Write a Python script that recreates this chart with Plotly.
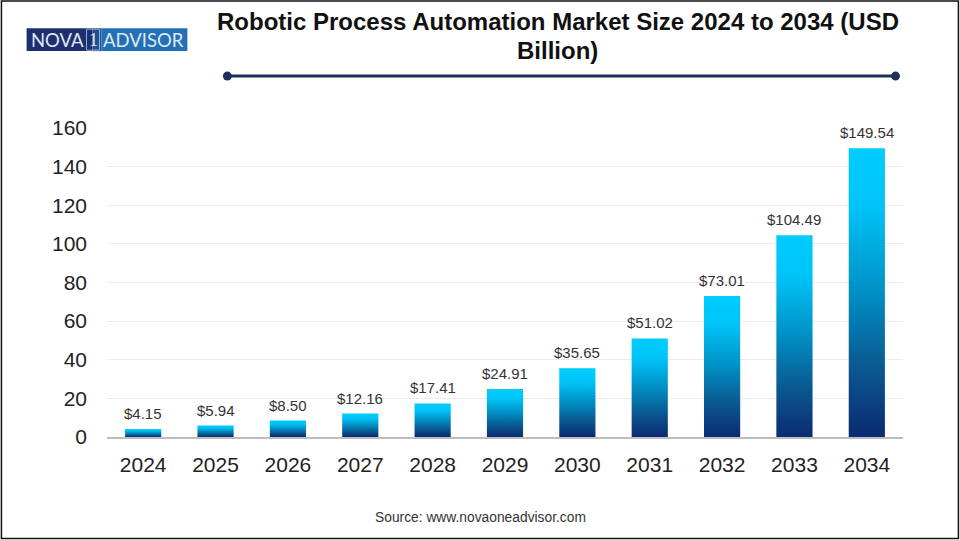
import plotly.graph_objects as go

years = ['2024', '2025', '2026', '2027', '2028', '2029', '2030', '2031', '2032', '2033', '2034']
market_size = [4.15, 5.94, 8.50, 12.16, 17.41, 24.91, 35.65, 51.02, 73.01, 104.49, 149.54]
bar_labels = ['$4.15', '$5.94', '$8.50', '$12.16', '$17.41', '$24.91', '$35.65', '$51.02', '$73.01', '$104.49', '$149.54']
y_ticks = [0, 20, 40, 60, 80, 100, 120, 140, 160]

W, H = 960, 540
LEFT, RIGHT, TOP, BOTTOM = 106.5, 903.5, 128, 437.5
NAVY = '#1f2d5f'
FONT = 'Liberation Sans, Arial, sans-serif'


# paper coordinates count from the plot area, these take picture pixels
def px_x(v):
    return (v - LEFT) / (RIGHT - LEFT)


def px_y(v):
    return (BOTTOM - v) / (BOTTOM - TOP)


def page_text(text, x, y, size, color, family=FONT):
    return dict(text=text, xref='paper', yref='paper', x=px_x(x), y=px_y(y), xanchor='center', yanchor='middle',
                showarrow=False, font=dict(size=size, color=color, family=family))


fig = go.Figure()
fig.add_trace(go.Bar(
    x=years, y=market_size,
    cliponaxis=False,
    marker=dict(color='#00a0d8', line=dict(width=0)),
    width=0.5, hoverinfo='x+y',
))

shapes = [
    # outer frame of the picture
    dict(type='rect', xref='paper', yref='paper', x0=px_x(0.8), x1=px_x(959), y0=px_y(0.8), y1=px_y(539.2),
         line=dict(color='#111111', width=1.5), fillcolor='rgba(0,0,0,0)', layer='below'),
    # logo
    dict(type='rect', xref='paper', yref='paper', x0=px_x(26), x1=px_x(92), y0=px_y(28), y1=px_y(51),
         line=dict(width=0), fillcolor='#1e2f70', layer='below'),
    dict(type='rect', xref='paper', yref='paper', x0=px_x(92), x1=px_x(101), y0=px_y(28), y1=px_y(51),
         line=dict(width=0), fillcolor='#214f92', layer='below'),
    dict(type='rect', xref='paper', yref='paper', x0=px_x(101), x1=px_x(187), y0=px_y(28), y1=px_y(51),
         line=dict(width=0), fillcolor='#2470b4', layer='below'),
    dict(type='rect', xref='paper', yref='paper', x0=px_x(86), x1=px_x(99), y0=px_y(29), y1=px_y(50),
         line=dict(color='#8fb4de', width=1), fillcolor='rgba(0,0,0,0)'),
    # rule under title
    dict(type='line', xref='paper', yref='paper', x0=px_x(227), x1=px_x(896), y0=px_y(76), y1=px_y(76),
         line=dict(color=NAVY, width=3)),
    dict(type='circle', xref='paper', yref='paper', x0=px_x(222.5), x1=px_x(231.5), y0=px_y(71.5), y1=px_y(80.5),
         line=dict(width=0), fillcolor=NAVY),
    dict(type='circle', xref='paper', yref='paper', x0=px_x(891.5), x1=px_x(900.5), y0=px_y(71.5), y1=px_y(80.5),
         line=dict(width=0), fillcolor=NAVY),
]

annotations = [
    # two notes because plotly's line spacing is wider than the reference's
    page_text('<b>Robotic Process Automation Market Size 2024 to 2034 (USD</b>', 558, 21.5, 24, '#111111'),
    page_text('<b>Billion)</b>', 558, 50, 24, '#111111'),
    page_text('Source: www.novaoneadvisor.com', 480, 518, 13.8, '#333333'),
    page_text('NOVA', 56.5, 40, 18.5, '#dfe8f5', 'Lato'),
    page_text('1', 92.5, 40, 18, '#dfe8f5', 'Liberation Serif'),
    page_text('ADVISOR', 143, 40, 18.5, '#dfe8f5', 'Lato'),
]

# value labels as notes on the data, plotly's outside bar text sits too close to the bar
# x is the category index: a year string would be read as a position on the axis
for i, value in enumerate(market_size):
    annotations.append(dict(text=bar_labels[i], x=i, y=value, xref='x', yref='y', yshift=15.5, yanchor='middle',
                            showarrow=False, font=dict(size=15, color='#333333', family=FONT)))

fig.update_layout(
    width=W, height=H, autosize=False,
    margin=dict(l=LEFT, r=W - RIGHT, t=TOP, b=H - BOTTOM),
    paper_bgcolor='white', plot_bgcolor='white',
    showlegend=False, shapes=shapes, annotations=annotations,
    font=dict(family=FONT),
    xaxis=dict(type='category', range=[-0.5, 10.5], showgrid=False, showline=True, linecolor='#bdbdbd', linewidth=2,
               ticks='', tickfont=dict(size=21, color='#222222'), ticklabelstandoff=8),
    yaxis=dict(range=[0, 160], tickvals=y_ticks, showgrid=True, gridcolor='#ececec', gridwidth=1,
               zeroline=False, showline=False, ticks='', tickfont=dict(size=21, color='#222222'),
               ticklabelstandoff=19),
)

# plotly bars have no gradient option, so fill the drawn bars with an svg gradient
gradient_js = """
document.body.style.margin = '0';
var gd = document.getElementById('{plot_id}');
function paintBars() {
    var svg = gd.querySelector('.main-svg');
    var ns = 'http://www.w3.org/2000/svg';
    if (!svg.querySelector('#barGrad')) {
        var g = document.createElementNS(ns, 'linearGradient');
        g.setAttribute('id', 'barGrad');
        g.setAttribute('x1', '0'); g.setAttribute('y1', '0');
        g.setAttribute('x2', '0'); g.setAttribute('y2', '1');
        [['0', '#00ccff'], ['0.2', '#00c4f8'], ['0.5', '#008fc4'], ['0.75', '#0a5a92'], ['1', '#0b2a72']].forEach(function (s) {
            var st = document.createElementNS(ns, 'stop');
            st.setAttribute('offset', s[0]);
            st.setAttribute('stop-color', s[1]);
            g.appendChild(st);
        });
        svg.querySelector('defs').appendChild(g);
    }
    gd.querySelectorAll('.bars .point path').forEach(function (p) {
        p.style.fill = 'url(#barGrad)';
    });
}
paintBars();
gd.on('plotly_afterplot', paintBars);
"""

fig.write_html("out.html", post_script=gradient_js, config=dict(displayModeBar=False))
